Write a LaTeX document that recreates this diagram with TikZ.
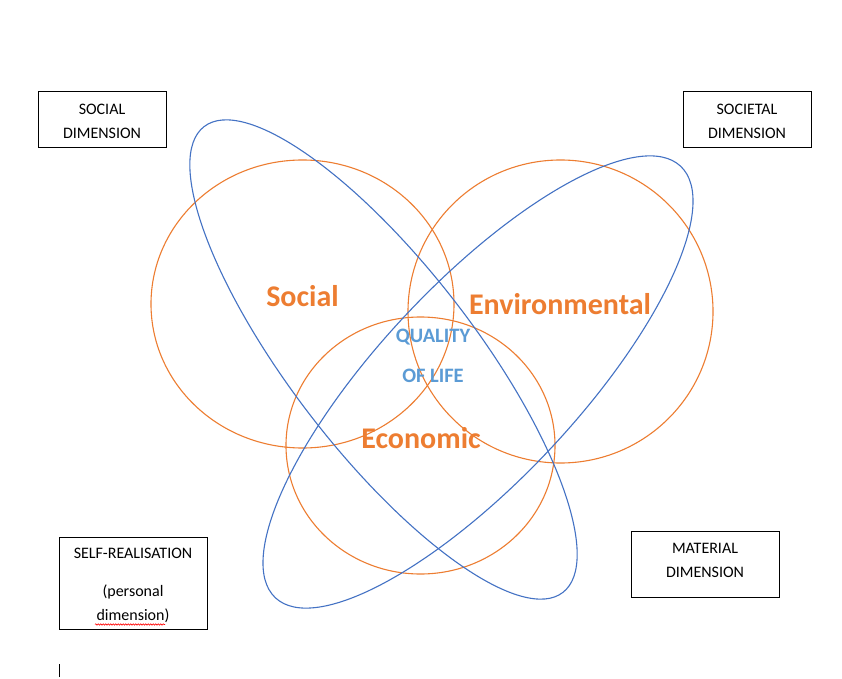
\documentclass[tikz,border=0pt]{standalone}
\usepackage{fontspec}
\setmainfont{Carlito}
\usetikzlibrary{decorations.pathmorphing}
\definecolor{vorange}{HTML}{ED7D31}
\definecolor{vblue}{HTML}{4472C4}
\definecolor{tblue}{HTML}{5B9BD5}
\begin{document}
\begin{tikzpicture}[x=1pt,y=1pt,
  dimbox/.style={draw=black,line width=1pt,inner sep=0pt,minimum width=#1},
  boxtext/.style={anchor=base,inner sep=0pt,font=\fontsize{16}{19}\selectfont},
  bigword/.style={anchor=base,inner sep=0pt,text=vorange,font=\fontsize{30}{36}\selectfont\bfseries},
  qol/.style={anchor=base,inner sep=0pt,text=tblue,font=\fontsize{20.5}{24}\selectfont\bfseries},
  ring/.style={draw=vorange,line width=1.1pt},
  petal/.style={draw=vblue,line width=1.1pt}]
\useasboundingbox (0,0) rectangle (842,678);
\fill[white] (0,0) rectangle (842,678);
% orange circles
\draw[ring] (302.5,374) ellipse [x radius=151.5, y radius=144];
\draw[ring] (560.5,366.5) ellipse [x radius=152.5, y radius=151.5];
\draw[ring] (420.5,232.5) ellipse [x radius=134.5, y radius=128.5];
% blue ellipses
\draw[petal, rotate around={-52.4:(383.5,318.5)}] (383.5,318.5) ellipse [x radius=294, y radius=92];
\draw[petal, rotate around={46.8:(478,296)}] (478,296) ellipse [x radius=296, y radius=98.5];
% labels
\node[bigword] (social) at (302.5,371.3) {Social};
\node[bigword] (env) at (560,363) {Environmental};
\node[bigword] (econ) at (421,229.7) {Economic};
\node[qol] (q1) at (433,335.3) {QUALITY};
\node[qol] (q2) at (433,295.7) {OF LIFE};
% boxes
\draw[line width=1pt] (38,530) rectangle (166,586);
\node[boxtext] (sd1) at (102,563) {SOCIAL};
\node[boxtext] (sd2) at (102,539.5) {DIMENSION};
\draw[line width=1pt] (683,530) rectangle (811,586);
\node[boxtext] (st1) at (747,563) {SOCIETAL};
\node[boxtext] (st2) at (747,539.5) {DIMENSION};
\draw[line width=1pt] (59,49) rectangle (207,141);
\node[boxtext] (sr1) at (133,119.7) {SELF-REALISATION};
\node[boxtext] (sr2) at (133,81.5) {(personal};
\node[boxtext] (sr3) at (133,58) {dimension)};
\draw[red, line width=0.6pt, decorate, decoration={snake, amplitude=0.7pt, segment length=2.5pt}] (95,53.5) -- (165,53.5);
\draw[line width=1pt] (631,81) rectangle (779,147);
\node[boxtext] (md1) at (705,125) {MATERIAL};
\node[boxtext] (md2) at (705,101) {DIMENSION};
% cursor mark
\draw[line width=1pt] (59,1) -- (59,14);
\end{tikzpicture}
\end{document}
